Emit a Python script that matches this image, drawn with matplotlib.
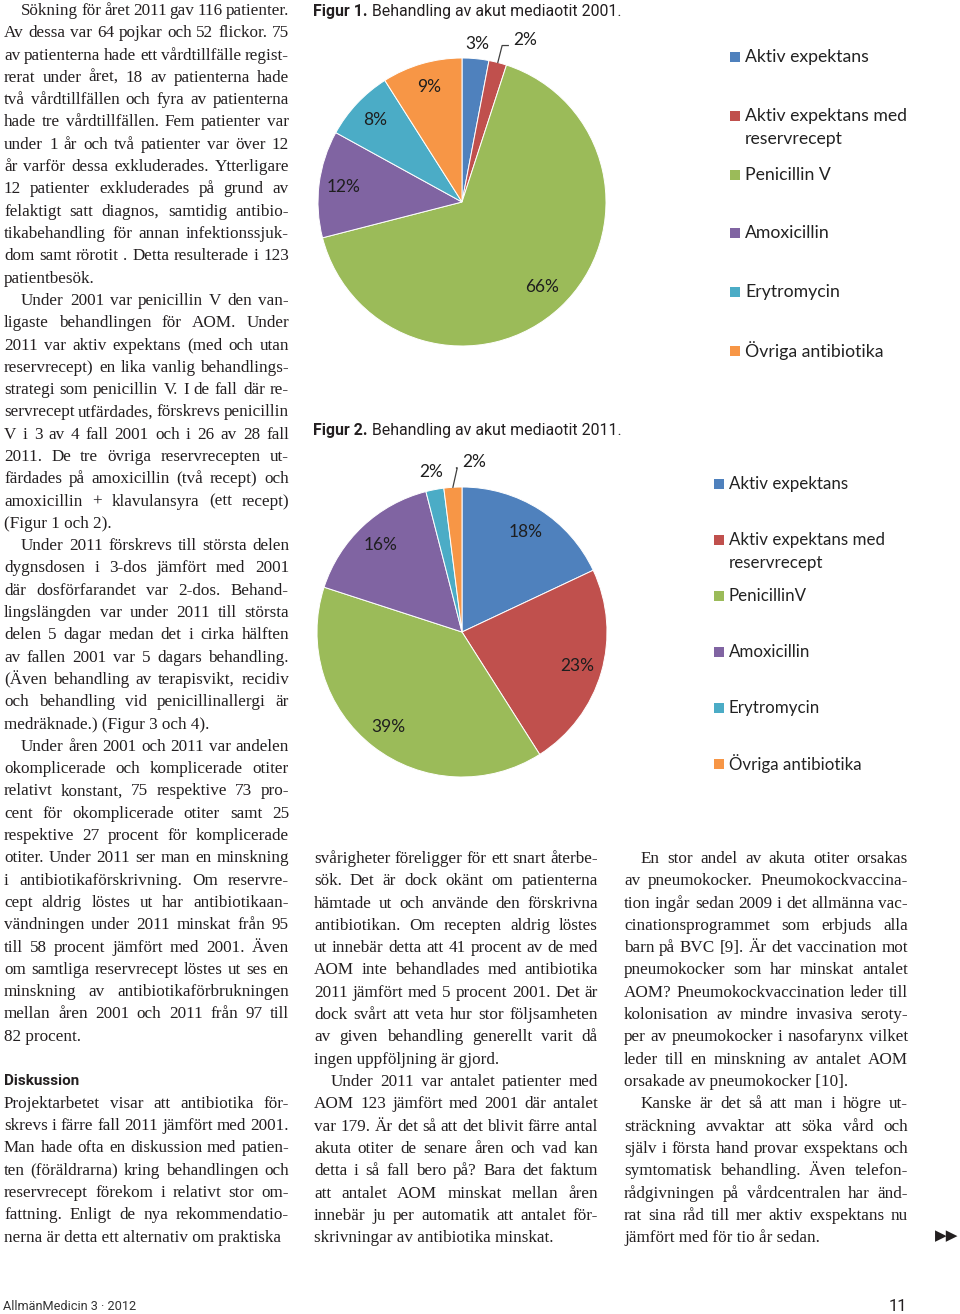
import matplotlib
matplotlib.use("Agg")
import matplotlib.pyplot as plt
import numpy as np
from matplotlib.patches import Rectangle

# --- data -------------------------------------------------------------
labels_2001 = ["Aktiv expektans", "Aktiv expektans med\nreservrecept", "Penicillin V",
               "Amoxicillin", "Erytromycin", "Övriga antibiotika"]
labels_2011 = ["Aktiv expektans", "Aktiv expektans med\nreservrecept", "PenicillinV",
               "Amoxicillin", "Erytromycin", "Övriga antibiotika"]
values_2001 = [3, 2, 66, 12, 8, 9]
values_2011 = [18, 23, 39, 16, 2, 2]
colors = ["#4F81BD", "#C0504D", "#9BBB59", "#8064A2", "#4BACC6", "#F79646"]

title_2001 = ("Figur 1.", " Behandling av akut mediaotit 2001.")
title_2011 = ("Figur 2.", " Behandling av akut mediaotit 2011.")

# body text: (indent, lines); "#" = heading, "" = blank line
col_left = [
    (True, ["Sökning för året 2011 gav 116 patienter.",
            "Av dessa var 64 pojkar och 52 flickor. 75",
            "av patienterna hade ett vårdtillfälle regist-",
            "rerat under året, 18 av patienterna hade",
            "två vårdtillfällen och fyra av patienterna",
            "hade tre vårdtillfällen. Fem patienter var",
            "under 1 år och två patienter var över 12",
            "år varför dessa exkluderades. Ytterligare",
            "12 patienter exkluderades på grund av",
            "felaktigt satt diagnos, samtidig antibio-",
            "tikabehandling för annan infektionssjuk-",
            "dom samt rörotit . Detta resulterade i 123",
            "patientbesök."]),
    (True, ["Under 2001 var penicillin V den van-",
            "ligaste behandlingen för AOM. Under",
            "2011 var aktiv expektans (med och utan",
            "reservrecept) en lika vanlig behandlings-",
            "strategi som penicillin V. I de fall där re-",
            "servrecept utfärdades, förskrevs penicillin",
            "V i 3 av 4 fall 2001 och i 26 av 28 fall",
            "2011. De tre övriga reservrecepten ut-",
            "färdades på amoxicillin (två recept) och",
            "amoxicillin + klavulansyra (ett recept)",
            "(Figur 1 och 2)."]),
    (True, ["Under 2011 förskrevs till största delen",
            "dygnsdosen i 3-dos jämfört med 2001",
            "där dosförfarandet var 2-dos. Behand-",
            "lingslängden var under 2011 till största",
            "delen 5 dagar medan det i cirka hälften",
            "av fallen 2001 var 5 dagars behandling.",
            "(Även behandling av terapisvikt, recidiv",
            "och behandling vid penicillinallergi är",
            "medräknade.) (Figur 3 och 4)."]),
    (True, ["Under åren 2001 och 2011 var andelen",
            "okomplicerade och komplicerade otiter",
            "relativt konstant, 75 respektive 73 pro-",
            "cent för okomplicerade otiter samt 25",
            "respektive 27 procent för komplicerade",
            "otiter. Under 2011 ser man en minskning",
            "i antibiotikaförskrivning. Om reservre-",
            "cept aldrig löstes ut har antibiotikaan-",
            "vändningen under 2011 minskat från 95",
            "till 58 procent jämfört med 2001. Även",
            "om samtliga reservrecept löstes ut ses en",
            "minskning av antibiotikaförbrukningen",
            "mellan åren 2001 och 2011 från 97 till",
            "82 procent."]),
    "",
    "#Diskussion",
    (False, ["Projektarbetet visar att antibiotika för-",
             "skrevs i färre fall 2011 jämfört med 2001.",
             "Man hade ofta en diskussion med patien-",
             "ten (föräldrarna) kring behandlingen och",
             "reservrecept förekom i relativt stor om-",
             "fattning. Enligt de nya rekommendatio-",
             "nerna är detta ett alternativ om praktiska"]),
]
col_mid = [
    (False, ["svårigheter föreligger för ett snart återbe-",
             "sök. Det är dock okänt om patienterna",
             "hämtade ut och använde den förskrivna",
             "antibiotikan. Om recepten aldrig löstes",
             "ut innebär detta att 41 procent av de med",
             "AOM inte behandlades med antibiotika",
             "2011 jämfört med 5 procent 2001. Det är",
             "dock svårt att veta hur stor följsamheten",
             "av given behandling generellt varit då",
             "ingen uppföljning är gjord."]),
    (True, ["Under 2011 var antalet patienter med",
            "AOM 123 jämfört med 2001 där antalet",
            "var 179. Är det så att det blivit färre antal",
            "akuta otiter de senare åren och vad kan",
            "detta i så fall bero på? Bara det faktum",
            "att antalet AOM minskat mellan åren",
            "innebär ju per automatik att antalet för-",
            "skrivningar av antibiotika minskat."]),
]
col_right = [
    (True, ["En stor andel av akuta otiter orsakas",
            "av pneumokocker. Pneumokockvaccina-",
            "tion ingår sedan 2009 i det allmänna vac-",
            "cinationsprogrammet som erbjuds alla",
            "barn på BVC [9]. Är det vaccination mot",
            "pneumokocker som har minskat antalet",
            "AOM? Pneumokockvaccination leder till",
            "kolonisation av mindre invasiva seroty-",
            "per av pneumokocker i nasofarynx vilket",
            "leder till en minskning av antalet AOM",
            "orsakade av pneumokocker [10]."]),
    (True, ["Kanske är det så att man i högre ut-",
            "sträckning avvaktar att söka vård och",
            "själv i första hand provar exspektans och",
            "symtomatisk behandling. Även telefon-",
            "rådgivningen på vårdcentralen har änd-",
            "rat sina råd till mer aktiv exspektans nu",
            "jämfört med för tio år sedan."]),
]

# --- page ---------------------------------------------------------------
W, H = 960, 1314
fig = plt.figure(figsize=(W / 100, H / 100), dpi=100)
renderer = fig.canvas.get_renderer()

INK = "#231f20"
SERIF = dict(family="Liberation Serif", size=12.3, color=INK)
SANS = ["Roboto", "DejaVu Sans"]
LH = 22.3


def fx(x):
    return x / W


def fy(y):
    return 1 - y / H


_cache = {}


def width(s, **kw):
    key = (s, repr(sorted(kw.items())))
    if key not in _cache:
        t = fig.text(0, 0, s, **kw)
        _cache[key] = t.get_window_extent(renderer).width
        t.remove()
    return _cache[key]


def set_line(line, x0, x1, y, justify):
    words = line.split()
    if not justify or len(words) < 2:
        fig.text(fx(x0), fy(y), line, va="baseline", **SERIF)
        return
    ws = [width(w, **SERIF) for w in words]
    gap = max((x1 - x0 - sum(ws)) / (len(words) - 1), 2.0)
    x = x0
    for w, wd in zip(words, ws):
        fig.text(fx(x), fy(y), w, va="baseline", **SERIF)
        x += wd + gap


def draw_column(col, x0, x1, y0):
    i = 0
    for block in col:
        y = y0 + i * LH
        if block == "":
            i += 1
            continue
        if isinstance(block, str):
            fig.text(fx(x0), fy(y), block[1:], va="baseline", family=SANS,
                     size=11, weight="bold", color=INK)
            i += 1
            continue
        indent, lines = block
        for k, line in enumerate(lines):
            y = y0 + i * LH
            xs = x0 + (17 if indent and k == 0 else 0)
            set_line(line, xs, x1, y, k < len(lines) - 1)
            i += 1


draw_column(col_left, 4, 289, 15)
draw_column(col_mid, 314, 598, 863)
draw_column(col_right, 624, 908, 863)


# --- figure captions ------------------------------------------------------
def caption(parts, x, y):
    kw = dict(family=SANS, size=11.4, color=INK)
    fig.text(fx(x), fy(y), parts[0], va="baseline", weight="bold", **kw)
    w = width(parts[0], weight="bold", **kw)
    fig.text(fx(x + w), fy(y), parts[1], va="baseline", **kw)


caption(title_2001, 313, 16)
caption(title_2011, 313, 435)


# --- pies -------------------------------------------------------------
def pie(values, cx, cy, R, label_pos, leader):
    L = 1.35
    S = 2 * L * R
    ax = fig.add_axes([fx(cx - S / 2), fy(cy + S / 2), S / W, S / H])
    wedges, _ = ax.pie(values, colors=colors, startangle=90, counterclock=False,
                       radius=1, wedgeprops=dict(edgecolor="white", linewidth=0.7))
    ax.set_xlim(-L, L)
    ax.set_ylim(-L, L)
    ax.axis("off")
    for w, v, (d, shift), lead in zip(wedges, values, label_pos, leader):
        mid = np.deg2rad((w.theta1 + w.theta2) / 2)
        ang = mid + np.deg2rad(shift)
        lx, ly = d * np.cos(ang), d * np.sin(ang)
        ax.text(lx, ly, f"{v}%", ha="center", va="center", family=["Lato", "DejaVu Sans"],
                size=12.5, color="#1e1e1e")
        if lead:
            px, py = np.cos(mid), np.sin(mid)
            hy = ly - 0.04
            ax.plot([px, px + 0.03, lx - 0.12], [py, hy, hy], color="#404040", lw=0.9)
    return ax


pie(values_2001, 462, 202, 144,
    [(1.10, 0), (1.21, -7), (0.81, 0), (0.83, 0), (0.83, 0), (0.83, 0)],
    [False, True, False, False, False, False])
pie(values_2011, 462, 632, 145,
    [(0.82, 0), (0.83, 0), (0.83, 0), (0.82, 0), (1.12, 0), (1.175, -7.6)],
    [False, False, False, False, False, True])


# --- legends ------------------------------------------------------------
def legend(labels, x, y0, step, size):
    for i, (lab, c) in enumerate(zip(labels, colors)):
        y = y0 + i * step
        fig.patches.append(Rectangle((fx(x), fy(y + 5)), 10 / W, 10 / H,
                                     transform=fig.transFigure, facecolor=c,
                                     edgecolor="none"))
        for k, part in enumerate(lab.split("\n")):
            fig.text(fx(x + 15), fy(y + k * 23), part, va="center",
                     family=["Lato", "DejaVu Sans"], size=size, color="#222222")


legend(labels_2001, 730, 57, 58.8, 12.7)
legend(labels_2011, 714, 484, 56, 12.2)

# --- page furniture -----------------------------------------------------
fig.text(fx(3), fy(1310), "AllmänMedicin 3 · 2012", va="baseline",
         family=SANS, size=9.2, color="#333333")
fig.text(fx(907), fy(1311), "11", va="baseline", ha="right",
         family=SANS, size=12, color=INK)
fig.text(fx(958), fy(1236), "▶▶", va="center", ha="right",
         family="DejaVu Sans", size=11, color=INK)

fig.savefig("out.png", dpi=100)
